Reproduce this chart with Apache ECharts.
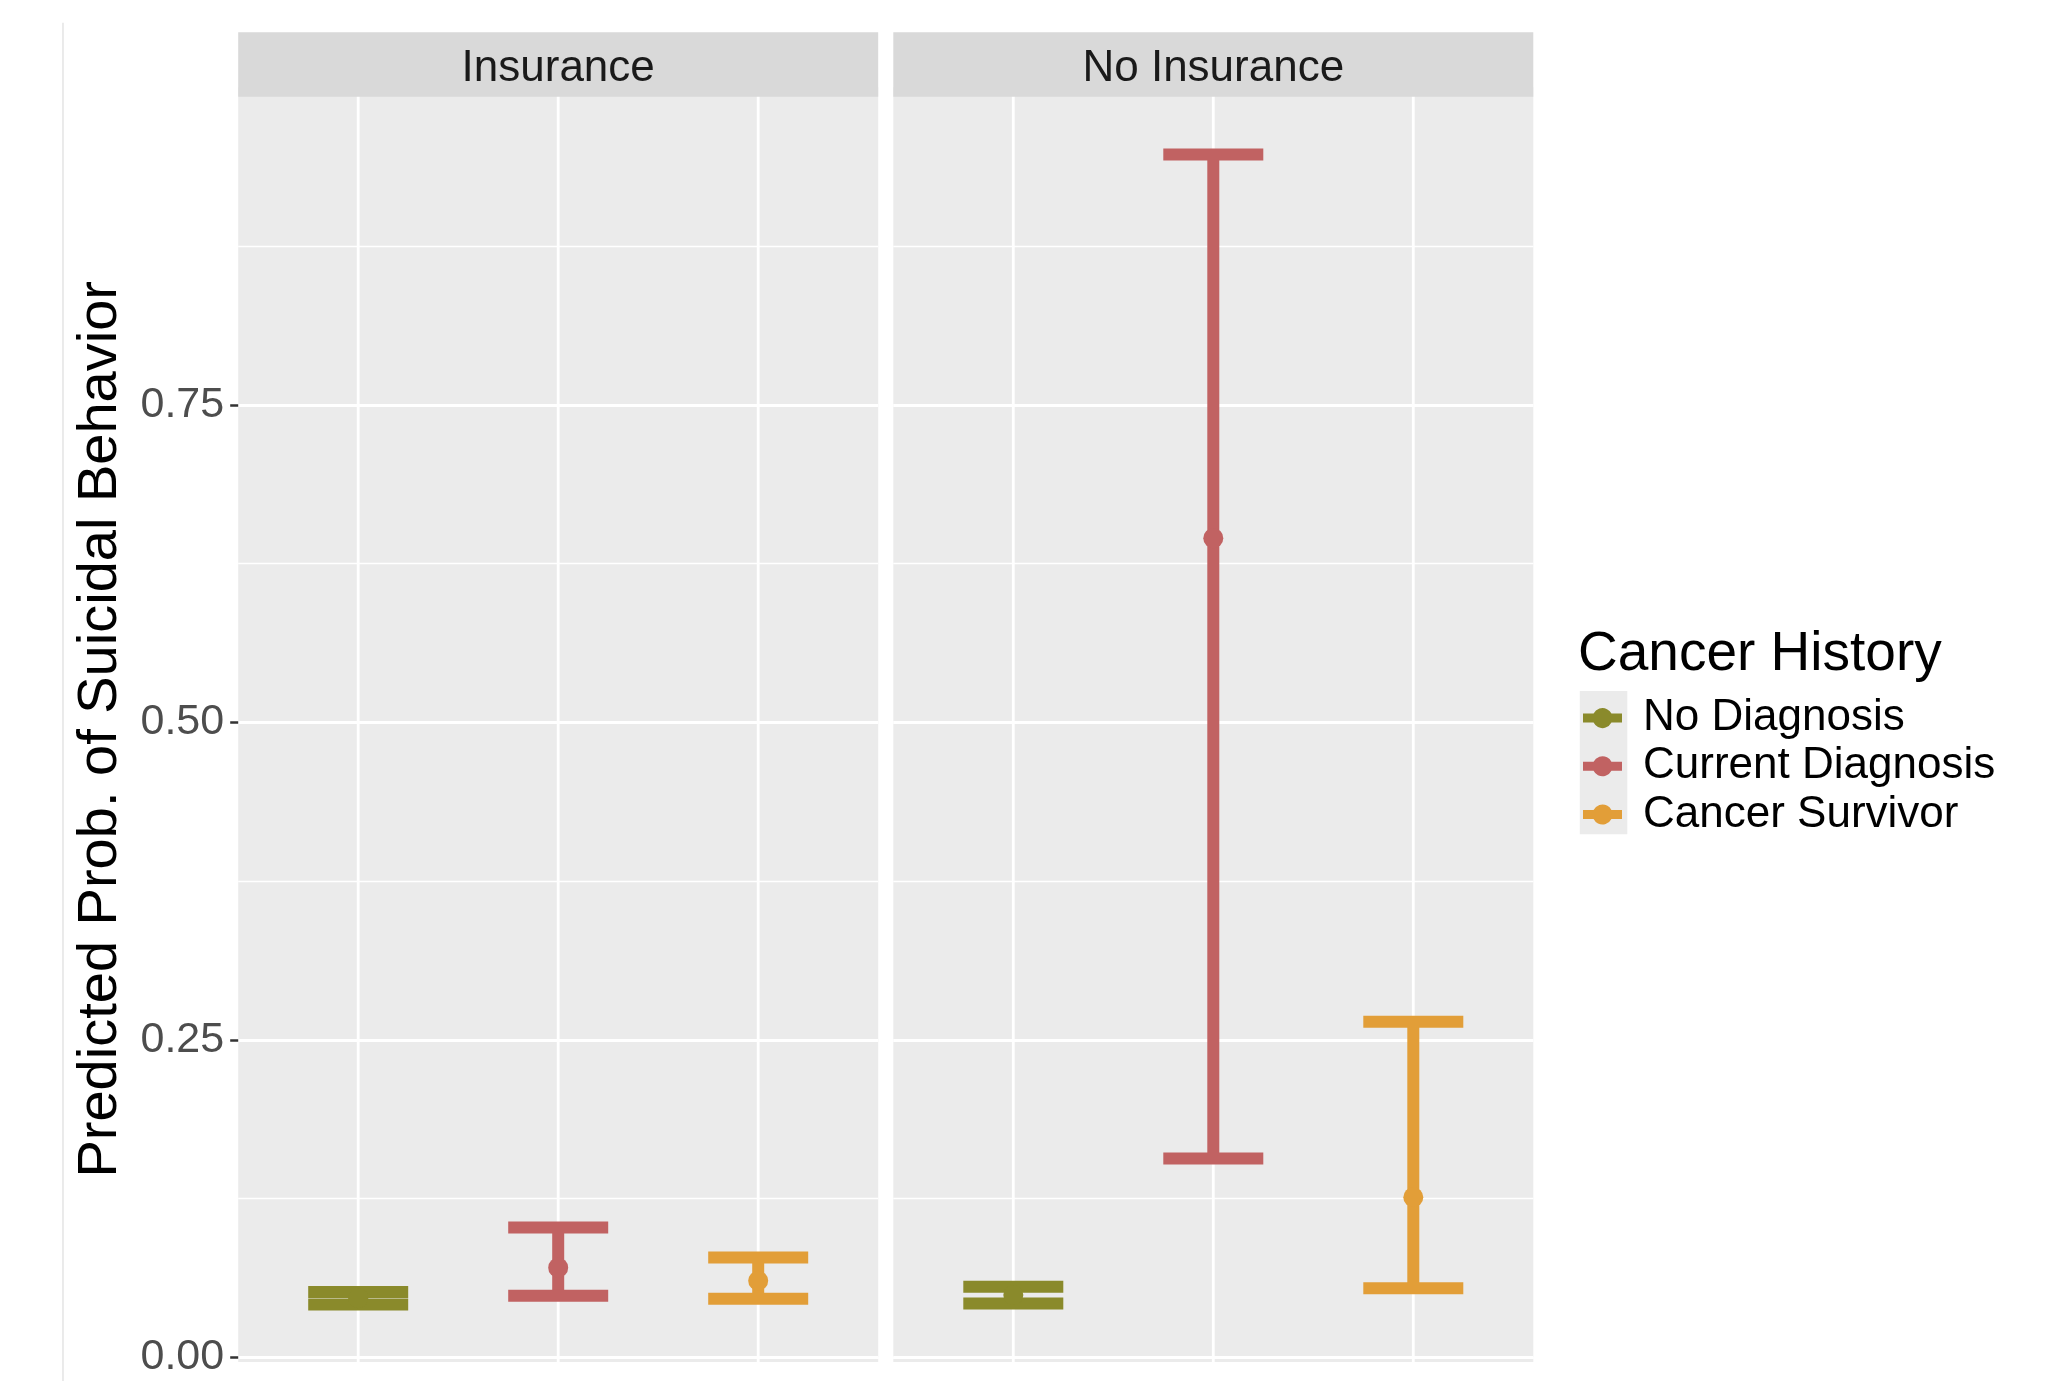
<!DOCTYPE html>
<html>
<head>
<meta charset="utf-8">
<script src="https://cdn.jsdelivr.net/npm/echarts@6/dist/echarts.min.js"></script>
<style>
  html, body { margin: 0; padding: 0; background: #ffffff; }
  #chart { width: 2069px; height: 1381px; }
</style>
</head>
<body>
<div id="chart"></div>
<script>
// ---- data ----
const panels = ['Insurance', 'No Insurance'];
const groups = ['No Diagnosis', 'Current Diagnosis', 'Cancer Survivor'];
const groupColors = ['#8A8A2B', '#C16262', '#E29E38'];
const yTicks = [0, 0.25, 0.5, 0.75];
const yTickLabels = ['0.00', '0.25', '0.50', '0.75'];

// predicted probability and its interval, one entry per cancer-history group
const insuranceMean    = [0.0465, 0.0706, 0.0603];
const insuranceLower   = [0.0416, 0.0484, 0.0462];
const insuranceUpper   = [0.0514, 0.1022, 0.0786];
const noInsuranceMean  = [0.0490, 0.6450, 0.1260];
const noInsuranceLower = [0.0424, 0.1565, 0.0544];
const noInsuranceUpper = [0.0556, 0.9470, 0.2642];

// ---- layout / style ----
const FONT = '"Liberation Sans", Arial, Helvetica, sans-serif';
const PANEL_LEFT = [238.2, 893.3];
const PANEL_W = 640;
const GRID_TOP = 87.3;      // y of value 1.0 (sits under the strip)
const GRID_H = 1270;        // value 0 -> value 1
const STRIP_TOP = 32.3;
const STRIP_H = 64.4;
const PANEL_FLOOR = -0.0037; // panel background continues slightly below 0
const X_MIN = 0.4, X_MAX = 3.6;
const CAP_WIDTH = 0.5;
const BAR_LW = 12;
const POINT_R = 10;
const PANEL_BG = '#EBEBEB';
const STRIP_BG = '#D9D9D9';

const meanByPanel  = [insuranceMean, noInsuranceMean];
const lowerByPanel = [insuranceLower, noInsuranceLower];
const upperByPanel = [insuranceUpper, noInsuranceUpper];

// horizontal bar with a dot, used as the legend key
const LEGEND_ICON = 'path://M0,5.5 H10.57 A10,10 0 0 1 28.43,5.5 H39 V14.5 H28.43 A10,10 0 0 1 10.57,14.5 H0 Z';

function renderErrorBar(params, api) {
  const x = api.value(0);
  const lo = api.coord([x, api.value(1)]);
  const mid = api.coord([x, api.value(2)]);
  const hi = api.coord([x, api.value(3)]);
  const half = api.size([CAP_WIDTH, 0])[0] / 2;
  const color = api.visual('color');
  const ls = { stroke: color, lineWidth: BAR_LW, lineCap: 'butt' };
  return {
    type: 'group',
    children: [
      { type: 'line', shape: { x1: lo[0], y1: lo[1], x2: hi[0], y2: hi[1] }, style: ls },
      { type: 'line', shape: { x1: lo[0] - half, y1: lo[1], x2: lo[0] + half, y2: lo[1] }, style: ls },
      { type: 'line', shape: { x1: hi[0] - half, y1: hi[1], x2: hi[0] + half, y2: hi[1] }, style: ls },
      { type: 'circle', shape: { cx: mid[0], cy: mid[1], r: POINT_R }, style: { fill: color } }
    ]
  };
}

function renderVGrid(params, api) {
  const x = api.value(0);
  const top = api.coord([x, 1]);
  const bottom = api.coord([x, PANEL_FLOOR]);
  return {
    type: 'line',
    shape: { x1: top[0], y1: top[1], x2: bottom[0], y2: bottom[1] },
    style: { stroke: '#FFFFFF', lineWidth: 2.8 }
  };
}

const grids = [], xAxes = [], yAxes = [], series = [], graphics = [];

panels.forEach((panel, p) => {
  grids.push({
    left: PANEL_LEFT[p], top: GRID_TOP, width: PANEL_W, height: GRID_H,
    show: true, backgroundColor: PANEL_BG, borderWidth: 0
  });
  xAxes.push({ gridIndex: p, type: 'value', min: X_MIN, max: X_MAX, show: false });
  yAxes.push({
    gridIndex: p, type: 'value', min: 0, max: 1, interval: 0.25,
    axisLine: { show: false },
    axisTick: { show: p === 0, length: 8, customValues: yTicks, lineStyle: { color: '#333333', width: 2.5 } },
    axisLabel: {
      show: p === 0, customValues: yTicks, margin: 14,
      fontSize: 43, fontFamily: FONT, color: '#4D4D4D',
      formatter: v => yTickLabels[yTicks.indexOf(v)] ?? ''
    },
    splitLine: { show: true, lineStyle: { color: '#FFFFFF', width: 2.8 } },
    minorTick: { show: false, splitNumber: 2 },
    minorSplitLine: { show: true, lineStyle: { color: '#FFFFFF', width: 1.4 } }
  });

  // vertical grid lines at each category position
  series.push({
    type: 'custom', xAxisIndex: p, yAxisIndex: p, z: 1, silent: true,
    renderItem: renderVGrid,
    data: groups.map((g, i) => [i + 1])
  });

  // error bars with point estimates
  groups.forEach((g, i) => {
    series.push({
      type: 'custom', name: g, xAxisIndex: p, yAxisIndex: p, z: 5,
      itemStyle: { color: groupColors[i] },
      renderItem: renderErrorBar,
      data: [[i + 1, lowerByPanel[p][i], meanByPanel[p][i], upperByPanel[p][i]]]
    });
  });

  // panel background below zero
  graphics.push({
    type: 'rect', z: 0, silent: true,
    shape: { x: PANEL_LEFT[p], y: GRID_TOP + GRID_H + 1.4, width: PANEL_W, height: 3.3 },
    style: { fill: PANEL_BG }
  });
  // facet strip
  graphics.push({
    type: 'rect', z: 10, silent: true,
    shape: { x: PANEL_LEFT[p], y: STRIP_TOP, width: PANEL_W, height: STRIP_H },
    style: { fill: STRIP_BG }
  });
  graphics.push({
    type: 'text', z: 11, silent: true,
    x: PANEL_LEFT[p] + PANEL_W / 2, y: 69,
    style: { text: panel, fontSize: 44, fontFamily: FONT, fill: '#1A1A1A', align: 'center', verticalAlign: 'middle' }
  });
});

// thin frame line at the far left
graphics.push({
  type: 'line', z: 0, silent: true,
  shape: { x1: 63, y1: 22.7, x2: 63, y2: 1381 },
  style: { stroke: '#DDDDDD', lineWidth: 1.2 }
});
// y axis title
graphics.push({
  type: 'text', z: 11, silent: true, x: 101, y: 729.3, rotation: Math.PI / 2,
  style: { text: 'Predicted Prob. of Suicidal Behavior', fontSize: 56, fontFamily: FONT, fill: '#000000', align: 'center', verticalAlign: 'middle' }
});
// legend title and key background
graphics.push({
  type: 'text', z: 11, silent: true, x: 1578, y: 655,
  style: { text: 'Cancer History', fontSize: 55, fontFamily: FONT, fill: '#000000', align: 'left', verticalAlign: 'middle' }
});
graphics.push({
  type: 'rect', z: 1, silent: true,
  shape: { x: 1579.8, y: 691, width: 47.5, height: 143.3 },
  style: { fill: PANEL_BG }
});

const option = {
  backgroundColor: '#FFFFFF',
  animation: false,
  textStyle: { fontFamily: FONT },
  grid: grids,
  xAxis: xAxes,
  yAxis: yAxes,
  legend: {
    orient: 'vertical', left: 1583, top: 694, padding: 0, itemGap: 0,
    itemWidth: 39, itemHeight: 20, selectedMode: false,
    itemStyle: { borderWidth: 0 },
    data: groups.map(name => ({ name, icon: LEGEND_ICON })),
    textStyle: { fontSize: 44, fontFamily: FONT, color: '#000000', lineHeight: 48.2, padding: [0, 0, 0, 16] }
  },
  graphic: graphics,
  series: series
};

const chart = echarts.init(document.getElementById('chart'), null, { renderer: 'canvas' });
chart.setOption(option);
</script>
</body>
</html>
